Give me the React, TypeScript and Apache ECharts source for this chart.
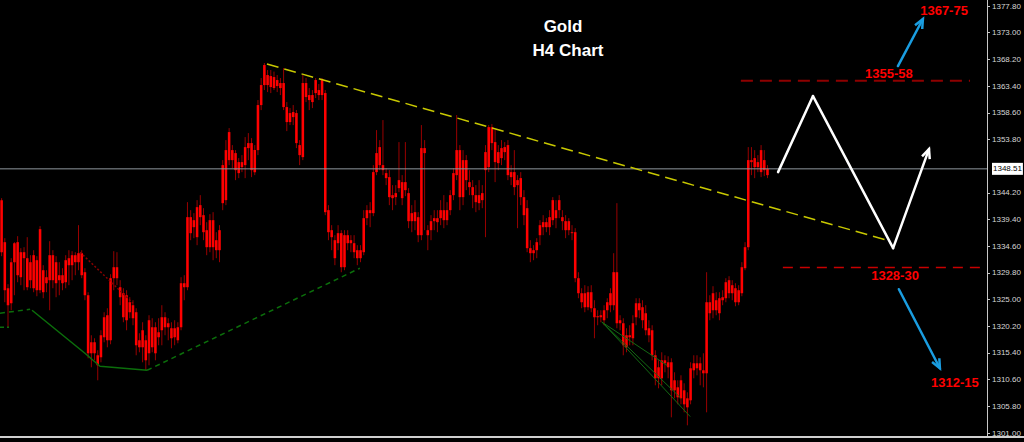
import React, { useEffect, useRef } from "react";
import * as echarts from "echarts";

// ---- axis ----
const slotCount = 308; // bar slots across the plot (last ~68 are empty future space)
const priceMin = 1301.0;
const priceMax = 1377.8;
const priceTicks = [
  1301.0, 1305.8, 1310.6, 1315.4, 1320.2, 1325.0, 1329.8, 1334.6, 1339.4,
  1344.2, 1353.8, 1358.6, 1363.4, 1368.2, 1373.0, 1377.8,
];
const currentPrice = 1348.51;

// ---- H4 candles: [open, close, low, high] ----
const candles: number[][] = [
  [1342.88, 1333.52, 1332.80, 1343.24], [1335.32, 1326.68, 1324.52, 1336.04], [1327.04, 1323.98, 1320.02, 1327.76],
  [1324.34, 1331.72, 1323.08, 1332.44], [1331.72, 1335.14, 1325.78, 1335.32], [1335.32, 1329.38, 1328.12, 1336.40],
  [1333.52, 1329.02, 1327.58, 1334.24], [1332.44, 1333.52, 1326.68, 1334.42], [1332.44, 1327.22, 1326.68, 1336.22],
  [1328.48, 1331.72, 1327.04, 1332.98], [1327.04, 1332.98, 1326.32, 1333.88], [1332.08, 1326.68, 1325.60, 1332.80],
  [1326.68, 1337.66, 1326.14, 1338.20], [1330.28, 1326.32, 1325.24, 1331.18], [1329.02, 1327.94, 1326.32, 1330.28],
  [1328.48, 1332.98, 1323.08, 1335.50], [1332.98, 1328.48, 1327.04, 1333.88], [1331.72, 1327.94, 1325.42, 1332.80],
  [1328.48, 1329.38, 1325.78, 1331.72], [1329.38, 1327.94, 1326.68, 1330.64], [1328.12, 1332.08, 1327.04, 1332.98],
  [1331.18, 1332.44, 1327.58, 1333.88], [1332.98, 1331.18, 1328.48, 1333.70], [1331.72, 1332.98, 1329.38, 1333.52],
  [1331.72, 1333.34, 1330.28, 1338.38], [1333.34, 1329.38, 1328.84, 1333.88], [1329.92, 1325.78, 1324.88, 1330.64],
  [1325.78, 1315.34, 1314.44, 1326.32], [1315.34, 1317.32, 1312.82, 1318.58], [1317.32, 1315.34, 1314.08, 1318.04],
  [1314.98, 1313.18, 1310.48, 1315.88], [1314.62, 1318.58, 1313.72, 1319.48], [1318.22, 1321.82, 1317.32, 1322.72],
  [1322.18, 1317.68, 1316.42, 1323.44], [1317.68, 1328.84, 1316.96, 1329.56], [1328.84, 1330.82, 1326.68, 1333.70],
  [1330.82, 1328.84, 1327.58, 1333.52], [1327.22, 1325.42, 1323.98, 1328.48], [1326.14, 1321.82, 1320.92, 1327.04],
  [1325.78, 1321.28, 1319.48, 1326.68], [1322.72, 1324.52, 1321.64, 1325.42], [1323.98, 1321.64, 1320.38, 1324.88],
  [1322.72, 1316.78, 1314.98, 1323.44], [1317.68, 1316.42, 1315.52, 1318.94], [1316.42, 1319.48, 1313.72, 1320.92],
  [1317.68, 1314.08, 1312.28, 1318.58], [1315.34, 1321.28, 1313.18, 1322.18], [1320.02, 1316.42, 1315.52, 1321.64],
  [1315.34, 1320.02, 1314.08, 1320.92], [1318.22, 1319.12, 1316.78, 1321.64], [1319.48, 1321.82, 1316.78, 1323.98],
  [1321.82, 1320.02, 1318.58, 1322.72], [1320.74, 1320.02, 1317.68, 1321.64], [1319.84, 1318.04, 1316.24, 1320.92],
  [1318.22, 1319.84, 1316.78, 1321.28], [1320.02, 1317.68, 1317.14, 1320.92], [1320.02, 1327.94, 1319.48, 1329.02],
  [1327.94, 1327.22, 1324.88, 1329.38], [1327.22, 1339.82, 1326.68, 1342.52], [1339.82, 1336.94, 1335.68, 1341.08],
  [1338.02, 1339.28, 1336.04, 1340.54], [1336.22, 1341.62, 1334.78, 1342.88], [1339.82, 1341.98, 1338.38, 1343.78],
  [1340.18, 1337.12, 1335.68, 1341.44], [1337.48, 1334.42, 1332.98, 1338.92], [1334.42, 1339.28, 1333.52, 1340.36],
  [1339.28, 1334.42, 1332.08, 1340.72], [1335.68, 1333.88, 1332.44, 1337.12], [1333.88, 1337.48, 1331.72, 1338.38],
  [1342.34, 1349.18, 1341.08, 1350.08], [1342.88, 1351.88, 1341.98, 1353.68],
  [1350.08, 1355.12, 1349.18, 1355.84], [1351.88, 1350.08, 1348.64, 1352.78], [1351.34, 1348.28, 1346.48, 1351.88],
  [1349.72, 1347.74, 1346.84, 1350.44], [1348.82, 1349.72, 1347.92, 1350.98], [1349.18, 1352.42, 1346.84, 1354.22],
  [1352.24, 1353.14, 1350.08, 1354.94], [1353.14, 1348.28, 1347.02, 1354.04], [1347.92, 1351.88, 1347.38, 1352.78],
  [1351.88, 1359.98, 1350.98, 1360.88], [1359.98, 1363.58, 1359.08, 1364.84], [1363.58, 1367.18, 1362.68, 1367.54],
  [1365.38, 1363.58, 1362.32, 1366.28], [1363.22, 1365.20, 1362.14, 1366.28], [1365.02, 1363.04, 1362.68, 1366.00],
  [1364.48, 1363.40, 1362.32, 1365.38], [1363.04, 1363.94, 1361.78, 1364.84], [1363.94, 1359.62, 1359.08, 1366.64],
  [1359.62, 1356.92, 1355.30, 1360.52], [1356.92, 1358.54, 1356.38, 1359.44], [1357.82, 1358.72, 1356.38, 1359.98],
  [1358.54, 1353.14, 1352.24, 1359.08], [1352.78, 1350.98, 1349.18, 1353.68], [1350.62, 1363.94, 1350.08, 1365.38],
  [1363.94, 1361.42, 1360.52, 1364.84], [1361.78, 1360.88, 1359.08, 1363.04], [1361.78, 1360.52, 1359.44, 1362.68],
  [1362.14, 1364.48, 1361.24, 1364.84], [1362.68, 1361.78, 1360.88, 1363.76], [1361.78, 1364.66, 1360.88, 1364.84],
  [1362.14, 1340.72, 1340.18, 1362.68], [1341.08, 1337.12, 1335.68, 1341.98], [1337.48, 1336.22, 1333.88, 1338.38],
  [1335.68, 1332.44, 1331.18, 1336.58], [1335.14, 1336.94, 1333.88, 1338.38], [1336.94, 1330.82, 1329.92, 1337.48],
  [1330.82, 1336.58, 1330.28, 1337.48], [1336.58, 1335.14, 1333.88, 1337.48], [1335.14, 1335.68, 1333.52, 1336.58],
  [1335.14, 1333.52, 1332.44, 1336.58], [1333.88, 1332.44, 1331.18, 1334.78], [1332.44, 1333.88, 1331.72, 1334.78],
  [1333.52, 1339.64, 1332.98, 1341.08], [1339.64, 1341.08, 1338.38, 1341.98], [1341.08, 1340.54, 1338.02, 1342.52],
  [1340.54, 1347.92, 1340.00, 1349.18], [1347.92, 1351.34, 1347.38, 1355.48], [1349.18, 1352.42, 1348.28, 1353.68],
  [1349.18, 1348.28, 1347.38, 1357.28], [1347.74, 1346.84, 1345.58, 1348.64], [1347.02, 1343.42, 1341.98, 1348.28],
  [1343.78, 1343.24, 1341.08, 1345.58], [1343.42, 1344.14, 1341.98, 1345.58], [1345.04, 1346.48, 1344.32, 1353.32],
  [1346.12, 1343.24, 1341.98, 1347.38], [1344.68, 1346.12, 1343.60, 1353.32], [1344.14, 1339.10, 1337.84, 1345.04],
  [1340.54, 1339.10, 1337.12, 1341.98], [1339.10, 1340.72, 1337.48, 1342.88], [1339.82, 1336.58, 1335.32, 1340.72],
  [1336.58, 1352.24, 1335.68, 1356.38], [1352.24, 1351.34, 1337.48, 1353.68], [1337.48, 1336.58, 1333.88, 1338.38],
  [1337.48, 1339.10, 1335.68, 1340.18], [1339.10, 1339.64, 1337.48, 1341.08], [1339.64, 1338.92, 1337.12, 1341.08],
  [1339.64, 1341.08, 1338.38, 1342.88], [1341.08, 1339.28, 1337.84, 1343.78], [1339.28, 1341.08, 1338.38, 1342.52],
  [1341.08, 1343.78, 1340.18, 1344.68], [1343.78, 1347.74, 1342.88, 1348.64], [1347.38, 1351.88, 1346.48, 1358.18],
  [1351.88, 1343.42, 1341.08, 1352.78], [1343.42, 1350.08, 1341.98, 1351.88], [1350.08, 1346.48, 1344.68, 1350.98],
  [1346.12, 1345.22, 1343.78, 1348.28], [1345.22, 1343.78, 1341.44, 1346.48], [1343.78, 1342.52, 1340.72, 1345.58],
  [1342.34, 1343.78, 1341.08, 1346.48],
  [1344.14, 1342.88, 1341.44, 1345.58], [1348.28, 1351.52, 1336.22, 1352.78], [1348.82, 1356.02, 1347.92, 1356.38],
  [1356.02, 1353.14, 1351.88, 1356.56], [1353.32, 1349.72, 1346.12, 1355.48], [1351.52, 1349.54, 1348.28, 1352.78],
  [1350.44, 1352.24, 1349.18, 1353.68], [1351.52, 1352.42, 1350.08, 1353.32], [1352.78, 1347.38, 1346.48, 1353.68],
  [1347.92, 1347.02, 1345.58, 1349.18], [1347.92, 1345.22, 1343.78, 1351.88], [1345.58, 1346.48, 1337.84, 1347.38],
  [1346.84, 1343.42, 1341.98, 1347.92], [1343.42, 1340.18, 1338.38, 1344.68], [1341.44, 1334.24, 1333.52, 1342.88],
  [1334.24, 1333.34, 1331.72, 1335.68], [1333.34, 1333.88, 1332.08, 1334.78], [1333.88, 1335.32, 1332.44, 1336.04],
  [1336.58, 1338.38, 1334.78, 1339.28], [1338.02, 1338.92, 1336.58, 1340.18], [1338.92, 1338.02, 1337.12, 1339.64],
  [1338.02, 1339.82, 1336.58, 1341.08], [1339.28, 1342.88, 1338.38, 1343.42], [1341.08, 1339.64, 1337.84, 1342.88],
  [1341.08, 1342.88, 1339.64, 1343.78], [1339.82, 1339.10, 1337.48, 1341.08], [1339.10, 1337.48, 1336.04, 1340.18],
  [1337.48, 1339.10, 1336.58, 1339.64], [1337.12, 1336.94, 1335.68, 1338.38], [1337.12, 1328.84, 1328.12, 1337.84],
  [1328.84, 1326.14, 1325.24, 1329.92], [1326.14, 1324.52, 1323.44, 1327.04], [1323.62, 1326.14, 1322.72, 1327.58],
  [1326.32, 1323.62, 1323.08, 1327.40], [1323.44, 1326.32, 1322.72, 1327.58], [1323.44, 1321.82, 1318.04, 1324.88],
  [1322.00, 1321.82, 1320.38, 1323.08], [1321.82, 1322.18, 1320.92, 1323.08], [1321.28, 1323.08, 1320.38, 1323.98],
  [1323.08, 1324.52, 1321.64, 1325.24], [1323.98, 1326.14, 1322.72, 1327.04], [1323.98, 1329.92, 1323.08, 1333.34],
  [1329.92, 1320.74, 1319.84, 1342.34], [1321.28, 1320.74, 1319.48, 1322.18], [1320.74, 1316.78, 1314.98, 1321.64],
  [1316.42, 1318.58, 1315.52, 1319.84], [1318.58, 1318.22, 1316.78, 1320.38], [1318.04, 1320.74, 1316.78, 1322.18],
  [1321.82, 1324.34, 1320.38, 1325.24], [1324.34, 1323.08, 1321.64, 1325.24], [1323.62, 1321.28, 1319.84, 1324.88],
  [1322.54, 1319.48, 1318.58, 1323.98], [1319.84, 1318.58, 1317.32, 1321.28], [1319.48, 1314.98, 1314.08, 1320.38],
  [1314.98, 1310.84, 1309.58, 1315.88], [1310.84, 1312.82, 1309.04, 1314.08], [1310.84, 1314.08, 1309.58, 1315.52],
  [1314.08, 1313.54, 1311.92, 1314.98], [1313.72, 1312.82, 1310.84, 1314.80], [1313.72, 1308.68, 1303.82, 1314.44],
  [1308.68, 1310.48, 1307.24, 1311.92], [1309.22, 1307.42, 1306.16, 1310.48], [1307.24, 1310.48, 1306.16, 1311.38],
  [1308.68, 1306.16, 1304.72, 1309.94], [1307.24, 1305.62, 1302.38, 1308.32], [1306.88, 1312.64, 1306.16, 1313.72],
  [1312.28, 1313.54, 1310.84, 1314.98], [1313.54, 1312.64, 1311.38, 1314.98], [1313.54, 1312.28, 1309.58, 1314.62],
  [1312.28, 1311.74, 1309.22, 1315.34], [1311.74, 1324.52, 1304.72, 1329.92], [1324.52, 1322.54, 1321.28, 1325.78],
  [1323.08, 1326.14, 1321.64, 1327.40], [1324.88, 1323.08, 1322.18, 1326.32], [1322.54, 1325.24, 1321.28, 1326.32],
  [1324.88, 1325.42, 1323.98, 1326.68], [1325.24, 1328.12, 1324.52, 1328.84],
  [1328.48, 1326.14, 1325.24, 1329.20], [1326.14, 1327.58, 1324.88, 1328.48], [1327.04, 1324.52, 1323.80, 1327.94],
  [1324.52, 1326.68, 1323.98, 1327.58], [1326.14, 1330.82, 1325.60, 1331.72], [1330.64, 1334.42, 1330.28, 1335.32],
  [1334.42, 1350.08, 1333.88, 1352.42], [1350.08, 1349.72, 1347.38, 1352.42], [1350.44, 1348.82, 1346.84, 1351.88],
  [1348.82, 1349.72, 1347.92, 1350.98], [1351.88, 1347.92, 1347.02, 1352.78], [1350.08, 1348.28, 1347.20, 1351.88],
  [1347.38, 1348.51, 1346.84, 1349.18],
];

// ---- drawn studies, in [bar slot, price] ----
const trendLine = [[83.3, 1367.36], [276.8, 1335.68]];
const resistanceLine = [[231.2, 1364.35], [302.7, 1364.35]];
const supportLine = [[244.3, 1330.77], [305.8, 1330.77]];
const greenStub = [[0, 1320.02], [2.8, 1320.02]];
const greenDashedLeft = [[0, 1322.54], [9.4, 1323.26]];
const greenSolid = [[10.0, 1323.08], [26.5, 1315.34], [31.2, 1313.0], [45.9, 1312.28]];
const greenDashedRise = [[45.9, 1312.28], [112.3, 1330.64]];
const redDotted = [[25.0, 1333.52], [41.5, 1324.34]];
// segments: [x1, y1, x2, y2, arrowHead]
const fanSegments = [
  [187.9, 1320.92, 208.1, 1313.18, 0],
  [187.9, 1320.92, 212.2, 1307.42, 0],
  [187.9, 1320.92, 215.3, 1304.0, 0],
];
const zigzagSegments = [
  [242.8, 1347.92, 253.7, 1361.6, 0],
  [253.7, 1361.6, 278.7, 1334.24, 0],
  [278.7, 1334.24, 289.9, 1352.06, 1],
];
const blueArrows = [
  [280.2, 1367.0, 288.0, 1375.46, 1],
  [280.5, 1326.86, 293.3, 1312.64, 1],
];
const targetLabels = ["1355-58", "1328-30", "1367-75", "1312-15"];
const targetLabelPos = [[277.4, 1365.74], [279.3, 1329.38], [294.6, 1377.08], [298.0, 1310.12]];

const FONT = "'Liberation Sans', Arial, sans-serif";

function segmentSeries(data: number[][], color: string, width: number, z: number) {
  return {
    type: "custom",
    xAxisIndex: 1,
    yAxisIndex: 0,
    silent: true,
    z,
    encode: { x: [0, 2], y: [1, 3] },
    data,
    renderItem: (_p: any, api: any) => {
      const a = api.coord([api.value(0), api.value(1)]);
      const b = api.coord([api.value(2), api.value(3)]);
      const children: any[] = [
        {
          type: "line",
          shape: { x1: a[0], y1: a[1], x2: b[0], y2: b[1] },
          style: { stroke: color, lineWidth: width, lineCap: "round" },
        },
      ];
      if (api.value(4)) {
        const ang = Math.atan2(b[1] - a[1], b[0] - a[0]);
        const L = 10;
        const s = 0.42;
        const p1 = [b[0] - L * Math.cos(ang - s), b[1] - L * Math.sin(ang - s)];
        const p2 = [b[0] - L * Math.cos(ang + s), b[1] - L * Math.sin(ang + s)];
        children.push({
          type: "polyline",
          shape: { points: [p1, b, p2] },
          style: { stroke: color, lineWidth: width, fill: null, lineJoin: "miter" },
        });
      }
      return { type: "group", children };
    },
  };
}

function lineSeries(data: number[][], color: string, width: number, type: any, z: number) {
  return {
    type: "line",
    xAxisIndex: 1,
    yAxisIndex: 0,
    data,
    symbol: "none",
    silent: true,
    z,
    lineStyle: { color, width, type },
  };
}

export default function App() {
  const ref = useRef<HTMLDivElement>(null);

  useEffect(() => {
    document.body.style.margin = "0";
    document.body.style.background = "#000";
    if (!ref.current) return;
    const chart = echarts.init(ref.current, undefined, { renderer: "svg" });
    const categories = Array.from({ length: slotCount }, (_, i) => String(i));

    chart.setOption({
      animation: false,
      backgroundColor: "#000000",
      grid: { left: 0, right: 37, top: 6, height: 427, containLabel: false, outerBoundsMode: "none" },
      xAxis: [
        { type: "category", data: categories, boundaryGap: true, show: false },
        { type: "value", min: 0, max: slotCount, show: false },
      ],
      yAxis: {
        type: "value",
        position: "right",
        min: priceMin,
        max: priceMax,
        splitLine: { show: false },
        axisLine: { show: false, onZero: false },
        axisTick: {
          show: true,
          length: 3,
          lineStyle: { color: "#c8c8c8" },
          customValues: priceTicks,
        },
        axisLabel: {
          customValues: [...priceTicks, currentPrice],
          margin: 5,
          color: "#d6d6d6",
          fontSize: 8,
          fontFamily: FONT,
          formatter: (v: number) =>
            Math.abs(v - currentPrice) < 1e-6 ? `{cur|${v.toFixed(2)}}` : v.toFixed(2),
          rich: {
            cur: {
              backgroundColor: "#ffffff",
              color: "#000000",
              fontSize: 8,
              fontFamily: FONT,
              padding: [2, 1, 2, 1],
            },
          },
        },
      },
      graphic: [
        { type: "line", shape: { x1: 987.5, y1: 0, x2: 987.5, y2: 437 }, style: { stroke: "#c8c8c8", lineWidth: 1 }, z: 50 },
        { type: "rect", shape: { x: 0, y: 436, width: 1024, height: 2 }, style: { fill: "#cfcfcf" }, z: 60 },
        { type: "rect", shape: { x: 0, y: 438, width: 1024, height: 4 }, style: { fill: "#000" }, z: 60 },
        {
          type: "text",
          x: 563,
          y: 26,
          z: 60,
          style: { text: "Gold", fill: "#ffffff", font: `bold 17px ${FONT}`, align: "center", verticalAlign: "middle" },
        },
        {
          type: "text",
          x: 568,
          y: 50,
          z: 60,
          style: { text: "H4 Chart", fill: "#ffffff", font: `bold 17px ${FONT}`, align: "center", verticalAlign: "middle" },
        },
      ],
      series: [
        {
          type: "custom",
          name: "Gold H4",
          xAxisIndex: 0,
          yAxisIndex: 0,
          z: 2,
          encode: { x: 0, y: [1, 2, 3, 4] },
          data: candles.map((c, i) => [i, c[0], c[1], c[2], c[3]]),
          renderItem: (_p: any, api: any) => {
            const i = api.value(0);
            const o = api.coord([i, api.value(1)]);
            const c = api.coord([i, api.value(2)]);
            const l = api.coord([i, api.value(3)]);
            const h = api.coord([i, api.value(4)]);
            const w = api.size([1, 0])[0] * 0.8;
            const x = o[0];
            const top = Math.min(o[1], c[1]);
            const hgt = Math.max(1, Math.abs(o[1] - c[1]));
            return {
              type: "group",
              children: [
                { type: "line", shape: { x1: x, y1: h[1], x2: x, y2: l[1] }, style: { stroke: "#990000", lineWidth: 1 } },
                { type: "rect", shape: { x: x - w / 2, y: top, width: w, height: hgt }, style: { fill: "#ff0000" } },
              ],
            };
          },
        },
        lineSeries([[0, currentPrice], [slotCount, currentPrice]], "#8f969e", 1, "solid", 5),
        lineSeries(trendLine, "#c8c800", 1.5, [12, 6], 6),
        lineSeries(resistanceLine, "#8e0000", 2, [12, 7], 6),
        lineSeries(supportLine, "#c80000", 1.5, [10, 7], 6),
        lineSeries(greenStub, "#0b6e0b", 1.5, [4, 3], 6),
        lineSeries(greenDashedLeft, "#0b6e0b", 1.5, [5, 4], 6),
        lineSeries(greenSolid, "#0b6e0b", 1.5, "solid", 6),
        lineSeries(greenDashedRise, "#0b6e0b", 1.5, [5, 4], 6),
        lineSeries(redDotted, "#8b0000", 1.5, [2, 2], 6),
        segmentSeries(fanSegments, "#136a13", 1, 6),
        segmentSeries(zigzagSegments, "#ffffff", 2.5, 8),
        segmentSeries(blueArrows, "#1a9de0", 2.5, 8),
        {
          type: "custom",
          xAxisIndex: 1,
          yAxisIndex: 0,
          silent: true,
          z: 9,
          data: targetLabelPos,
          renderItem: (p: any, api: any) => {
            const pt = api.coord([api.value(0), api.value(1)]);
            return {
              type: "text",
              x: pt[0],
              y: pt[1],
              style: {
                text: targetLabels[p.dataIndex],
                fill: "#ff0000",
                font: `bold 13px ${FONT}`,
                align: "center",
                verticalAlign: "middle",
              },
            };
          },
        },
      ],
    });

    return () => chart.dispose();
  }, []);

  return (
    <div
      ref={ref}
      style={{ position: "fixed", left: 0, top: 0, width: 1024, height: 442, background: "#000" }}
    />
  );
}
